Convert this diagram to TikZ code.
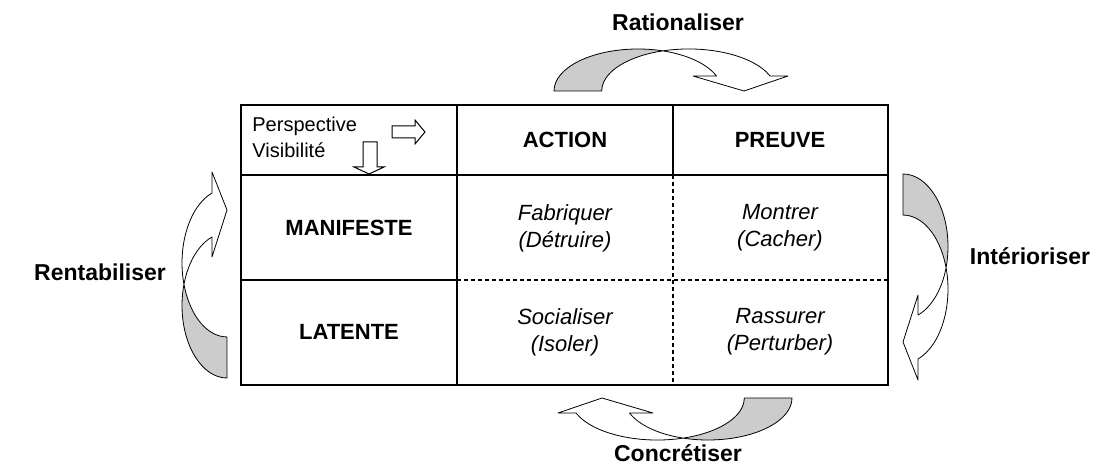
\documentclass[tikz,border=0pt]{standalone}
\usepackage{fontspec}
\setmainfont{Liberation Sans}
\usepackage{tikz}
\usetikzlibrary{positioning}
\definecolor{bandgrey}{RGB}{204,204,204}

\begin{document}
\begin{tikzpicture}[x=0.5pt, y=-0.5pt,
    outerlab/.style={font=\fontsize{11.5}{14}\selectfont\bfseries},
    hdr/.style={font=\fontsize{11}{13}\selectfont\bfseries},
    celltxt/.style={align=center, font=\fontsize{11}{13.5}\selectfont\itshape},
    smalltxt/.style={anchor=base west, inner sep=0pt, font=\fontsize{10}{12}\selectfont},
    frame/.style={line width=1pt},
    dashline/.style={line width=0.6pt, dash pattern=on 2pt off 1.5pt},
    band/.style={draw, line width=0.4pt, line join=round},
    blockarrow/.style={draw, fill=white, line width=0.5pt}
]
\useasboundingbox (0,0) rectangle (1101,475);

% table
\draw[dashline] (457,280) -- (888,280);
\draw[dashline] (673,175) -- (673,385);
\draw[frame] (241,105) rectangle (888,385);
\draw[frame] (241,175) -- (888,175);
\draw[frame] (241,280) -- (457,280);
\draw[frame] (457,105) -- (457,385);
\draw[frame] (673,105) -- (673,175);

\node[smalltxt] (persp) at (252,132) {Perspective};
\node[smalltxt] (visib) at (252,158) {Visibilité};
\draw[blockarrow] (392,126) -- (415,126) -- (415,120) -- (425,132) -- (415,144) -- (415,138) -- (392,138) -- cycle;
\draw[blockarrow] (363,142) -- (377,142) -- (377,167) -- (384,167) -- (369,174) -- (354,167) -- (363,167) -- cycle;

\node[hdr] (action) at (565,140) {ACTION};
\node[hdr] (preuve) at (780,140) {PREUVE};
\node[hdr] (manif) at (349,228) {MANIFESTE};
\node[hdr] (latente) at (349,332) {LATENTE};
\node[celltxt] (fab) at (565,228) {Fabriquer\\(Détruire)};
\node[celltxt] (mon) at (780,228) {Montrer\\(Cacher)};
\node[celltxt] (soc) at (565,332) {Socialiser\\(Isoler)};
\node[celltxt] (ras) at (780,332) {Rassurer\\(Perturber)};

% curved arrows round the table
\fill[bandgrey] (554,91) arc[start angle=180, end angle=287.3, x radius=84, y radius=42]
  arc[start angle=252.6, end angle=180, x radius=87, y radius=42] -- cycle;
\draw[band] (554,91) arc[start angle=180, end angle=339.1, x radius=84, y radius=42]
  -- (693,76) -- (744,91) -- (788,76) -- (770,76)
  arc[start angle=339.1, end angle=180, x radius=87, y radius=42] -- cycle;

\fill[bandgrey] (903,174) arc[start angle=270, end angle=376.8, x radius=45, y radius=72.6]
  arc[start angle=343.1, end angle=270, x radius=45, y radius=74.1] -- cycle;
\draw[band] (903,174) arc[start angle=270, end angle=430.5, x radius=45, y radius=72.6]
  -- (918,295) -- (903,342) -- (918,380) -- (918,359)
  arc[start angle=430.5, end angle=270, x radius=45, y radius=74.1] -- cycle;

\fill[bandgrey] (792,398) arc[start angle=0, end angle=107.3, x radius=84, y radius=42]
  arc[start angle=72.6, end angle=0, x radius=87, y radius=42] -- cycle;
\draw[band] (792,398) arc[start angle=0, end angle=159.1, x radius=84, y radius=42]
  -- (653,413) -- (602,398) -- (558,413) -- (576,413)
  arc[start angle=159.1, end angle=0, x radius=87, y radius=42] -- cycle;

\fill[bandgrey] (227,378) arc[start angle=90, end angle=196.8, x radius=45, y radius=72.6]
  arc[start angle=163.1, end angle=90, x radius=45, y radius=74.1] -- cycle;
\draw[band] (227,378) arc[start angle=90, end angle=250.5, x radius=45, y radius=72.6]
  -- (212,257) -- (227,210) -- (212,172) -- (212,193)
  arc[start angle=250.5, end angle=90, x radius=45, y radius=74.1] -- cycle;

\node[outerlab] (ratio) at (678,22) {Rationaliser};
\node[outerlab] (concr) at (678,453) {Concrétiser};
\node[outerlab] (renta) at (100,272) {Rentabiliser};
\node[outerlab] (inter) at (1030,256) {Intérioriser};
\end{tikzpicture}
\end{document}
